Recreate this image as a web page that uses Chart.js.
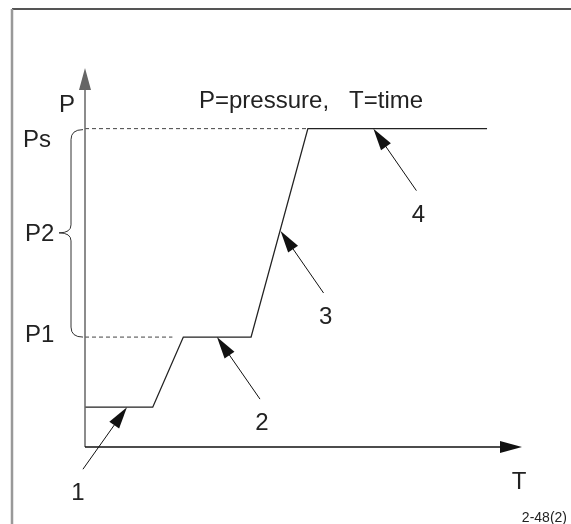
<!DOCTYPE html>
<html>
<head>
<meta charset="utf-8">
<script src="https://cdn.jsdelivr.net/npm/chart.js@4"></script>
<style>
  html, body { margin: 0; padding: 0; background: #fff; }
  canvas { display: block; }
</style>
</head>
<body>
<canvas id="chart" width="571" height="524"></canvas>
<script>
// pressure vs time curve (arbitrary units)
const curveTime = [0, 3.1, 4.5, 7.6, 10.2, 18.4];
const curvePressure = [1.05, 1.05, 2.9, 2.9, 8.4, 8.4];

const levelPs = 8.4;
const levelP1 = 2.9;
const psDashEnd = 10.2;
const p1DashEnd = 4.0;

const levelLabels = ['Ps', 'P2', 'P1'];

// numbered callouts pointing at the curve
const calloutLabels = ['1', '2', '3', '4'];
const calloutTime = [1.92, 6.04, 8.95, 13.2];
const calloutPressure = [1.05, 2.9, 5.7, 8.4];

const axisMax = { t: 20, p: 10 };
const FONT = '"Liberation Sans", Arial, Helvetica, sans-serif';
const INK = '#222';

function arrowHead(ctx, x1, y1, x2, y2, len, half) {
    const a = Math.atan2(y2 - y1, x2 - x1);
    ctx.beginPath();
    ctx.moveTo(x2, y2);
    ctx.lineTo(x2 - len * Math.cos(a) + half * Math.sin(a), y2 - len * Math.sin(a) - half * Math.cos(a));
    ctx.lineTo(x2 - len * Math.cos(a) - half * Math.sin(a), y2 - len * Math.sin(a) + half * Math.cos(a));
    ctx.closePath();
    ctx.fill();
}

function arrow(ctx, x1, y1, x2, y2, color, width) {
    const len = 22, half = 6;
    const a = Math.atan2(y2 - y1, x2 - x1);
    ctx.strokeStyle = color;
    ctx.fillStyle = color;
    ctx.lineWidth = width;
    ctx.beginPath();
    ctx.moveTo(x1, y1);
    ctx.lineTo(x2 - (len - 2) * Math.cos(a), y2 - (len - 2) * Math.sin(a));
    ctx.stroke();
    arrowHead(ctx, x1, y1, x2, y2, len, half);
}

const diagramPlugin = {
    id: 'diagram',
    beforeDraw(chart) {
        const ctx = chart.ctx;
        ctx.save();
        // frame
        ctx.fillStyle = '#fff';
        ctx.fillRect(0, 0, chart.width, chart.height);
        ctx.strokeStyle = '#555';
        ctx.lineWidth = 2;
        ctx.beginPath();
        ctx.moveTo(12, 9);
        ctx.lineTo(chart.width, 9);
        ctx.stroke();
        ctx.strokeStyle = '#999';
        ctx.lineWidth = 2.5;
        ctx.beginPath();
        ctx.moveTo(12, 9);
        ctx.lineTo(12, chart.height);
        ctx.stroke();
        ctx.restore();
    },
    afterDraw(chart) {
        const ctx = chart.ctx;
        const xs = chart.scales.x, ys = chart.scales.y;
        const area = chart.chartArea;
        ctx.save();

        // axes
        arrow(ctx, area.left, area.bottom, area.left, area.top, '#666', 1.5);
        arrow(ctx, area.left, area.bottom, area.right, area.bottom, '#111', 1.5);

        // brace from Ps to P1
        const yTop = ys.getPixelForValue(levelPs);
        const yBot = ys.getPixelForValue(levelP1);
        const yMid = (yTop + yBot) / 2;
        const bx = 71, r = 8;
        ctx.strokeStyle = '#333';
        ctx.lineWidth = 1;
        ctx.beginPath();
        ctx.moveTo(area.left - 2, yTop + 1);
        ctx.quadraticCurveTo(bx, yTop + 1, bx, yTop + 1 + r + 2);
        ctx.lineTo(bx, yMid - r);
        ctx.quadraticCurveTo(bx, yMid, bx - 12, yMid);
        ctx.quadraticCurveTo(bx, yMid, bx, yMid + r);
        ctx.lineTo(bx, yBot - r - 2);
        ctx.quadraticCurveTo(bx, yBot, area.left - 2, yBot);
        ctx.stroke();

        // text
        ctx.fillStyle = INK;
        ctx.font = '24px ' + FONT;
        ctx.textBaseline = 'alphabetic';
        ctx.textAlign = 'left';
        ctx.fillText('P', 59, 112);
        ctx.fillText('P=pressure,   T=time', 199, 108);
        ctx.fillText(levelLabels[0], 23, yTop + 18);
        ctx.fillText(levelLabels[1], 25, yMid + 8);
        ctx.fillText(levelLabels[2], 25, yBot + 5);
        ctx.textAlign = 'center';
        ctx.fillText('T', 519, 489);

        // callouts
        calloutLabels.forEach((lab, i) => {
            const tx = xs.getPixelForValue(calloutTime[i]);
            const ty = ys.getPixelForValue(calloutPressure[i]);
            const dx = i === 0 ? -44 : 43;
            arrow(ctx, tx + dx, ty + 62, tx, ty, '#111', 1);
            ctx.fillStyle = INK;
            ctx.fillText(lab, tx + dx - (i === 0 ? 5 : -2), ty + 93);
        });

        ctx.font = '14px ' + FONT;
        ctx.textAlign = 'right';
        ctx.fillText('2-48(2)', 567, 522);
        ctx.restore();
    }
};

new Chart(document.getElementById('chart'), {
    type: 'scatter',
    data: {
        datasets: [
            {
                data: curveTime.map((t, i) => ({ x: t, y: curvePressure[i] })),
                showLine: true,
                borderColor: '#222',
                borderWidth: 1.3,
                pointRadius: 0
            },
            {
                data: [{ x: 0, y: levelPs }, { x: psDashEnd, y: levelPs }],
                showLine: true,
                borderColor: '#444',
                borderWidth: 1,
                borderDash: [4, 3],
                pointRadius: 0
            },
            {
                data: [{ x: 0, y: levelP1 }, { x: p1DashEnd, y: levelP1 }],
                showLine: true,
                borderColor: '#444',
                borderWidth: 1,
                borderDash: [4, 3],
                pointRadius: 0
            }
        ]
    },
    options: {
        responsive: false,
        animation: false,
        layout: { padding: { left: 85, right: 49, top: 68, bottom: 77 } },
        plugins: { legend: { display: false }, tooltip: { enabled: false } },
        scales: {
            x: { type: 'linear', min: 0, max: axisMax.t, display: false },
            y: { type: 'linear', min: 0, max: axisMax.p, display: false }
        }
    },
    plugins: [diagramPlugin]
});
</script>
</body>
</html>
